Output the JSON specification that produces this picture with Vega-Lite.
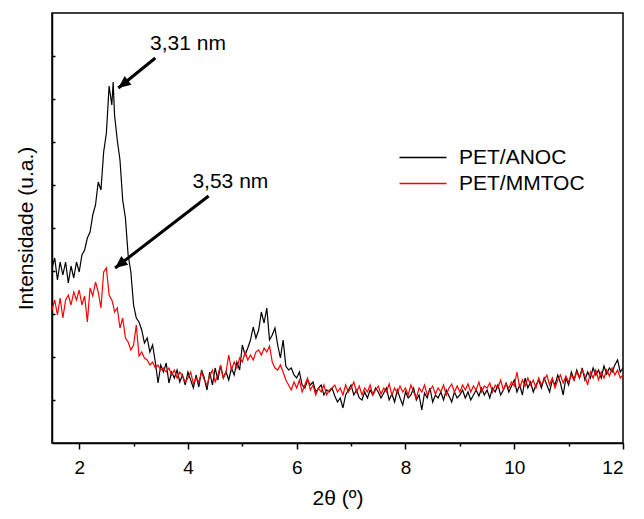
{
  "$schema": "https://vega.github.io/schema/vega-lite/v6.json",
  "width": 571,
  "height": 430,
  "autosize": "none",
  "padding": {"left": 52, "top": 13, "right": 21, "bottom": 76},
  "background": "white",
  "config": {
    "font": "Liberation Sans",
    "view": {"stroke": "black", "strokeWidth": 1.5},
    "axis": {"domainColor": "black", "domainWidth": 1.5, "tickColor": "black", "tickWidth": 1.5, "labelColor": "black", "titleColor": "black", "titleFontWeight": "normal", "grid": false}
  },
  "datasets": {
    "xrd": [
      {"t":1.50,"PET/ANOC":175,"PET/MMTOC":133},{"t":1.55,"PET/ANOC":185,"PET/MMTOC":143},{"t":1.60,"PET/ANOC":163,"PET/MMTOC":128},{"t":1.65,"PET/ANOC":181,"PET/MMTOC":145},{"t":1.70,"PET/ANOC":168,"PET/MMTOC":125},{"t":1.75,"PET/ANOC":181,"PET/MMTOC":143},{"t":1.80,"PET/ANOC":160,"PET/MMTOC":148},{"t":1.85,"PET/ANOC":177,"PET/MMTOC":138},{"t":1.90,"PET/ANOC":165,"PET/MMTOC":151},{"t":1.95,"PET/ANOC":181,"PET/MMTOC":143},
      {"t":2.00,"PET/ANOC":171,"PET/MMTOC":153},{"t":2.05,"PET/ANOC":188,"PET/MMTOC":138},{"t":2.10,"PET/ANOC":193,"PET/MMTOC":147},{"t":2.15,"PET/ANOC":205,"PET/MMTOC":121},{"t":2.20,"PET/ANOC":211,"PET/MMTOC":155},{"t":2.25,"PET/ANOC":228,"PET/MMTOC":147},{"t":2.30,"PET/ANOC":238,"PET/MMTOC":161},{"t":2.35,"PET/ANOC":261,"PET/MMTOC":151},{"t":2.40,"PET/ANOC":253,"PET/MMTOC":135},{"t":2.45,"PET/ANOC":291,"PET/MMTOC":171},
      {"t":2.50,"PET/ANOC":310,"PET/MMTOC":175},{"t":2.55,"PET/ANOC":357,"PET/MMTOC":148},{"t":2.60,"PET/ANOC":338,"PET/MMTOC":143},{"t":2.625,"PET/ANOC":361,"PET/MMTOC":138},{"t":2.65,"PET/ANOC":328,"PET/MMTOC":131},{"t":2.70,"PET/ANOC":303,"PET/MMTOC":135},{"t":2.75,"PET/ANOC":283,"PET/MMTOC":115},{"t":2.80,"PET/ANOC":243,"PET/MMTOC":125},{"t":2.85,"PET/ANOC":225,"PET/MMTOC":105},{"t":2.90,"PET/ANOC":188,"PET/MMTOC":101},{"t":2.95,"PET/ANOC":171,"PET/MMTOC":93},
      {"t":3.00,"PET/ANOC":138,"PET/MMTOC":98},{"t":3.05,"PET/ANOC":125,"PET/MMTOC":118},{"t":3.10,"PET/ANOC":121,"PET/MMTOC":87},{"t":3.15,"PET/ANOC":113,"PET/MMTOC":91},{"t":3.20,"PET/ANOC":100,"PET/MMTOC":85},{"t":3.25,"PET/ANOC":105,"PET/MMTOC":83},{"t":3.30,"PET/ANOC":91,"PET/MMTOC":78},{"t":3.35,"PET/ANOC":98,"PET/MMTOC":81},{"t":3.40,"PET/ANOC":81,"PET/MMTOC":75},{"t":3.45,"PET/ANOC":60,"PET/MMTOC":78},
      {"t":3.50,"PET/ANOC":78,"PET/MMTOC":73},{"t":3.55,"PET/ANOC":71,"PET/MMTOC":75},{"t":3.60,"PET/ANOC":80,"PET/MMTOC":71},{"t":3.65,"PET/ANOC":60,"PET/MMTOC":75},{"t":3.70,"PET/ANOC":71,"PET/MMTOC":68},{"t":3.75,"PET/ANOC":65,"PET/MMTOC":73},{"t":3.80,"PET/ANOC":73,"PET/MMTOC":65},{"t":3.85,"PET/ANOC":61,"PET/MMTOC":71},{"t":3.90,"PET/ANOC":68,"PET/MMTOC":67},{"t":3.95,"PET/ANOC":58,"PET/MMTOC":61},
      {"t":4.00,"PET/ANOC":71,"PET/MMTOC":65},{"t":4.05,"PET/ANOC":63,"PET/MMTOC":71},{"t":4.10,"PET/ANOC":55,"PET/MMTOC":59},{"t":4.15,"PET/ANOC":68,"PET/MMTOC":65},{"t":4.20,"PET/ANOC":56,"PET/MMTOC":61},{"t":4.25,"PET/ANOC":73,"PET/MMTOC":71},{"t":4.30,"PET/ANOC":65,"PET/MMTOC":63},{"t":4.35,"PET/ANOC":53,"PET/MMTOC":58},{"t":4.40,"PET/ANOC":71,"PET/MMTOC":67},{"t":4.45,"PET/ANOC":58,"PET/MMTOC":73},
      {"t":4.50,"PET/ANOC":75,"PET/MMTOC":61},{"t":4.55,"PET/ANOC":63,"PET/MMTOC":68},{"t":4.60,"PET/ANOC":77,"PET/MMTOC":78},{"t":4.65,"PET/ANOC":65,"PET/MMTOC":65},{"t":4.70,"PET/ANOC":71,"PET/MMTOC":71},{"t":4.75,"PET/ANOC":63,"PET/MMTOC":88},{"t":4.80,"PET/ANOC":75,"PET/MMTOC":73},{"t":4.85,"PET/ANOC":68,"PET/MMTOC":81},{"t":4.90,"PET/ANOC":81,"PET/MMTOC":75},{"t":4.95,"PET/ANOC":73,"PET/MMTOC":85},
      {"t":5.00,"PET/ANOC":98,"PET/MMTOC":81},{"t":5.05,"PET/ANOC":88,"PET/MMTOC":91},{"t":5.10,"PET/ANOC":95,"PET/MMTOC":83},{"t":5.15,"PET/ANOC":103,"PET/MMTOC":88},{"t":5.20,"PET/ANOC":116,"PET/MMTOC":83},{"t":5.25,"PET/ANOC":105,"PET/MMTOC":91},{"t":5.30,"PET/ANOC":113,"PET/MMTOC":93},{"t":5.35,"PET/ANOC":131,"PET/MMTOC":88},{"t":5.40,"PET/ANOC":120,"PET/MMTOC":95},{"t":5.45,"PET/ANOC":135,"PET/MMTOC":91},
      {"t":5.50,"PET/ANOC":103,"PET/MMTOC":97},{"t":5.55,"PET/ANOC":108,"PET/MMTOC":81},{"t":5.60,"PET/ANOC":115,"PET/MMTOC":75},{"t":5.65,"PET/ANOC":98,"PET/MMTOC":73},{"t":5.70,"PET/ANOC":85,"PET/MMTOC":78},{"t":5.75,"PET/ANOC":103,"PET/MMTOC":71},{"t":5.80,"PET/ANOC":77,"PET/MMTOC":63},{"t":5.85,"PET/ANOC":73,"PET/MMTOC":58},{"t":5.90,"PET/ANOC":75,"PET/MMTOC":53},{"t":5.95,"PET/ANOC":68,"PET/MMTOC":61},
      {"t":6.00,"PET/ANOC":65,"PET/MMTOC":55},{"t":6.05,"PET/ANOC":71,"PET/MMTOC":63},{"t":6.10,"PET/ANOC":58,"PET/MMTOC":51},{"t":6.15,"PET/ANOC":55,"PET/MMTOC":58},{"t":6.20,"PET/ANOC":63,"PET/MMTOC":65},{"t":6.25,"PET/ANOC":58,"PET/MMTOC":53},{"t":6.30,"PET/ANOC":61,"PET/MMTOC":58},{"t":6.35,"PET/ANOC":51,"PET/MMTOC":48},{"t":6.40,"PET/ANOC":55,"PET/MMTOC":55},{"t":6.45,"PET/ANOC":58,"PET/MMTOC":51},
      {"t":6.50,"PET/ANOC":48,"PET/MMTOC":58},{"t":6.55,"PET/ANOC":53,"PET/MMTOC":48},{"t":6.60,"PET/ANOC":51,"PET/MMTOC":53},{"t":6.65,"PET/ANOC":55,"PET/MMTOC":55},{"t":6.70,"PET/ANOC":47,"PET/MMTOC":58},{"t":6.75,"PET/ANOC":41,"PET/MMTOC":51},{"t":6.80,"PET/ANOC":45,"PET/MMTOC":55},{"t":6.85,"PET/ANOC":35,"PET/MMTOC":48},{"t":6.90,"PET/ANOC":48,"PET/MMTOC":58},{"t":6.95,"PET/ANOC":53,"PET/MMTOC":51},
      {"t":7.00,"PET/ANOC":58,"PET/MMTOC":55},{"t":7.05,"PET/ANOC":48,"PET/MMTOC":61},{"t":7.10,"PET/ANOC":53,"PET/MMTOC":51},{"t":7.15,"PET/ANOC":45,"PET/MMTOC":57},{"t":7.20,"PET/ANOC":43,"PET/MMTOC":48},{"t":7.25,"PET/ANOC":51,"PET/MMTOC":55},{"t":7.30,"PET/ANOC":45,"PET/MMTOC":51},{"t":7.35,"PET/ANOC":53,"PET/MMTOC":58},{"t":7.40,"PET/ANOC":48,"PET/MMTOC":48},{"t":7.45,"PET/ANOC":55,"PET/MMTOC":53},
      {"t":7.50,"PET/ANOC":51,"PET/MMTOC":57},{"t":7.55,"PET/ANOC":45,"PET/MMTOC":49},{"t":7.60,"PET/ANOC":50,"PET/MMTOC":55},{"t":7.65,"PET/ANOC":55,"PET/MMTOC":51},{"t":7.70,"PET/ANOC":43,"PET/MMTOC":59},{"t":7.75,"PET/ANOC":49,"PET/MMTOC":48},{"t":7.80,"PET/ANOC":41,"PET/MMTOC":55},{"t":7.85,"PET/ANOC":53,"PET/MMTOC":50},{"t":7.90,"PET/ANOC":45,"PET/MMTOC":57},{"t":7.95,"PET/ANOC":38,"PET/MMTOC":51},
      {"t":8.00,"PET/ANOC":51,"PET/MMTOC":55},{"t":8.05,"PET/ANOC":45,"PET/MMTOC":48},{"t":8.10,"PET/ANOC":48,"PET/MMTOC":58},{"t":8.15,"PET/ANOC":55,"PET/MMTOC":51},{"t":8.20,"PET/ANOC":43,"PET/MMTOC":45},{"t":8.25,"PET/ANOC":48,"PET/MMTOC":55},{"t":8.30,"PET/ANOC":33,"PET/MMTOC":51},{"t":8.35,"PET/ANOC":50,"PET/MMTOC":58},{"t":8.40,"PET/ANOC":45,"PET/MMTOC":48},{"t":8.45,"PET/ANOC":55,"PET/MMTOC":53},
      {"t":8.50,"PET/ANOC":41,"PET/MMTOC":57},{"t":8.55,"PET/ANOC":48,"PET/MMTOC":49},{"t":8.60,"PET/ANOC":45,"PET/MMTOC":55},{"t":8.65,"PET/ANOC":51,"PET/MMTOC":51},{"t":8.70,"PET/ANOC":43,"PET/MMTOC":58},{"t":8.75,"PET/ANOC":53,"PET/MMTOC":48},{"t":8.80,"PET/ANOC":47,"PET/MMTOC":55},{"t":8.85,"PET/ANOC":41,"PET/MMTOC":59},{"t":8.90,"PET/ANOC":51,"PET/MMTOC":51},{"t":8.95,"PET/ANOC":45,"PET/MMTOC":57},
      {"t":9.00,"PET/ANOC":48,"PET/MMTOC":51},{"t":9.05,"PET/ANOC":53,"PET/MMTOC":58},{"t":9.10,"PET/ANOC":45,"PET/MMTOC":53},{"t":9.15,"PET/ANOC":51,"PET/MMTOC":59},{"t":9.20,"PET/ANOC":43,"PET/MMTOC":51},{"t":9.25,"PET/ANOC":48,"PET/MMTOC":57},{"t":9.30,"PET/ANOC":53,"PET/MMTOC":53},{"t":9.35,"PET/ANOC":47,"PET/MMTOC":61},{"t":9.40,"PET/ANOC":55,"PET/MMTOC":51},{"t":9.45,"PET/ANOC":48,"PET/MMTOC":57},
      {"t":9.50,"PET/ANOC":53,"PET/MMTOC":55},{"t":9.55,"PET/ANOC":45,"PET/MMTOC":60},{"t":9.60,"PET/ANOC":55,"PET/MMTOC":51},{"t":9.65,"PET/ANOC":51,"PET/MMTOC":58},{"t":9.70,"PET/ANOC":58,"PET/MMTOC":55},{"t":9.75,"PET/ANOC":48,"PET/MMTOC":63},{"t":9.80,"PET/ANOC":53,"PET/MMTOC":53},{"t":9.85,"PET/ANOC":60,"PET/MMTOC":59},{"t":9.90,"PET/ANOC":51,"PET/MMTOC":55},{"t":9.95,"PET/ANOC":57,"PET/MMTOC":61},
      {"t":10.00,"PET/ANOC":63,"PET/MMTOC":57},{"t":10.05,"PET/ANOC":51,"PET/MMTOC":71},{"t":10.10,"PET/ANOC":58,"PET/MMTOC":55},{"t":10.15,"PET/ANOC":48,"PET/MMTOC":63},{"t":10.20,"PET/ANOC":65,"PET/MMTOC":57},{"t":10.25,"PET/ANOC":55,"PET/MMTOC":65},{"t":10.30,"PET/ANOC":61,"PET/MMTOC":58},{"t":10.35,"PET/ANOC":51,"PET/MMTOC":63},{"t":10.40,"PET/ANOC":58,"PET/MMTOC":55},{"t":10.45,"PET/ANOC":63,"PET/MMTOC":65},
      {"t":10.50,"PET/ANOC":55,"PET/MMTOC":58},{"t":10.55,"PET/ANOC":65,"PET/MMTOC":63},{"t":10.60,"PET/ANOC":58,"PET/MMTOC":68},{"t":10.65,"PET/ANOC":51,"PET/MMTOC":58},{"t":10.70,"PET/ANOC":63,"PET/MMTOC":65},{"t":10.75,"PET/ANOC":58,"PET/MMTOC":55},{"t":10.80,"PET/ANOC":68,"PET/MMTOC":63},{"t":10.85,"PET/ANOC":60,"PET/MMTOC":68},{"t":10.90,"PET/ANOC":48,"PET/MMTOC":60},{"t":10.95,"PET/ANOC":65,"PET/MMTOC":67},
      {"t":11.00,"PET/ANOC":58,"PET/MMTOC":61},{"t":11.05,"PET/ANOC":71,"PET/MMTOC":68},{"t":11.10,"PET/ANOC":63,"PET/MMTOC":63},{"t":11.15,"PET/ANOC":73,"PET/MMTOC":71},{"t":11.20,"PET/ANOC":65,"PET/MMTOC":65},{"t":11.25,"PET/ANOC":75,"PET/MMTOC":73},{"t":11.30,"PET/ANOC":63,"PET/MMTOC":67},{"t":11.35,"PET/ANOC":71,"PET/MMTOC":58},{"t":11.40,"PET/ANOC":65,"PET/MMTOC":71},{"t":11.45,"PET/ANOC":75,"PET/MMTOC":65},
      {"t":11.50,"PET/ANOC":68,"PET/MMTOC":73},{"t":11.55,"PET/ANOC":73,"PET/MMTOC":63},{"t":11.60,"PET/ANOC":65,"PET/MMTOC":71},{"t":11.65,"PET/ANOC":77,"PET/MMTOC":65},{"t":11.70,"PET/ANOC":69,"PET/MMTOC":73},{"t":11.75,"PET/ANOC":75,"PET/MMTOC":67},{"t":11.80,"PET/ANOC":71,"PET/MMTOC":75},{"t":11.85,"PET/ANOC":78,"PET/MMTOC":68},{"t":11.90,"PET/ANOC":83,"PET/MMTOC":73},{"t":11.95,"PET/ANOC":71,"PET/MMTOC":65},
      {"t":12.00,"PET/ANOC":75,"PET/MMTOC":68}
    ],
    "arrows": [
      {"t": 2.72, "i": 355, "t2": 3.40, "i2": 385},
      {"t": 2.66, "i": 175, "t2": 4.38, "i2": 247}
    ],
    "labels": [
      {"t": 4.00, "i": 393, "label": "3,31 nm"},
      {"t": 4.78, "i": 255, "label": "3,53 nm"}
    ]
  },
  "encoding": {
    "x": {
      "field": "t", "type": "quantitative",
      "scale": {"domain": [1.5, 12], "nice": false, "zero": false},
      "axis": {
        "title": "2θ (º)", "titleFontSize": 21, "titlePadding": 10,
        "values": [2, 3, 4, 5, 6, 7, 8, 9, 10, 11, 12],
        "labelExpr": "datum.value % 2 === 0 ? datum.label : ''",
        "labelFontSize": 19, "labelPadding": 9,
        "tickSize": {"condition": {"test": "datum.value % 2 === 0", "value": 6}, "value": 3}
      }
    },
    "y": {
      "field": "i", "type": "quantitative",
      "scale": {"domain": [0, 430], "nice": false},
      "axis": {
        "title": "Intensidade (u.a.)", "titleFontSize": 21, "titlePadding": 15,
        "values": [43, 86, 129, 172, 215, 258, 301, 344, 387],
        "labels": false, "tickSize": -3
      }
    }
  },
  "layer": [
    {
      "data": {"name": "xrd"},
      "transform": [{"fold": ["PET/ANOC", "PET/MMTOC"], "as": ["serie", "i"]}],
      "mark": {"type": "line", "strokeWidth": 1.2, "clip": true},
      "encoding": {
        "color": {
          "field": "serie", "type": "nominal",
          "scale": {"domain": ["PET/ANOC", "PET/MMTOC"], "range": ["#000000", "#ff0000"]},
          "legend": {
            "title": null, "orient": "none", "legendX": 379, "legendY": 134,
            "symbolType": "M-8.4,0 L1,0", "symbolSize": 100, "symbolStrokeWidth": 1.5,
            "labelFontSize": 21, "labelColor": "black", "labelOffset": 7, "rowPadding": 4
          }
        }
      }
    },
    {
      "data": {"name": "arrows"},
      "mark": {"type": "rule", "strokeWidth": 3, "color": "black"},
      "encoding": {
        "x2": {"field": "t2"},
        "y2": {"field": "i2"}
      }
    },
    {
      "data": {"name": "arrows"},
      "mark": {"type": "point", "shape": "M0,0 L-0.45,1 L0.45,1 Z", "filled": true, "color": "black", "opacity": 1, "size": 600, "angle": 232},
      "encoding": {}
    },
    {
      "data": {"name": "labels"},
      "mark": {"type": "text", "fontSize": 21, "color": "black", "align": "center", "baseline": "alphabetic"},
      "encoding": {
        "text": {"field": "label"}
      }
    }
  ]
}
